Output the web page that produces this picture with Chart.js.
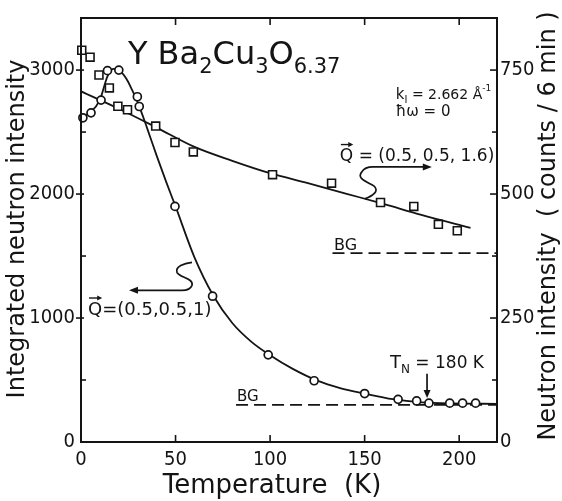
<!DOCTYPE html>
<html><head><meta charset="utf-8">
<script src="https://cdn.jsdelivr.net/npm/chart.js@4.4.1/dist/chart.umd.min.js"></script>
<style>html,body{margin:0;padding:0;background:#fff;overflow:hidden}canvas{display:block}</style>
</head><body>
<canvas id="c" width="562" height="501"></canvas>
<script>
// ---------------- data ----------------
const xTickValues = [0, 50, 100, 150, 200];
const leftTickValues = [0, 1000, 2000, 3000];
const leftMinorValues = [500, 1500, 2500];
const rightTickValues = [0, 250, 500, 750];
const rightMinorValues = [125, 375, 625];

// Q = (0.5, 0.5, 1): integrated intensity (left axis), open circles
const tempQ1 = [1, 5.3, 10.6, 14, 20, 29.8, 30.8, 49.7, 69.6, 99, 123.3, 150, 167.7, 177.5, 184, 195, 201.8, 208.7];
const intQ1  = [2615, 2655, 2758, 2995, 3000, 2785, 2706, 1900, 1176, 703, 494, 391, 344, 331, 313, 313, 313, 313];
// guide curve through Q1 data
const fitTempQ1 = [0, 5, 10, 14, 17, 20, 24, 27, 30, 35, 40, 45, 50, 60, 70, 80, 90, 100, 112, 125, 137, 150, 165, 180, 195, 220];
const fitIntQ1  = [2620, 2660, 2760, 2950, 3010, 3000, 2930, 2840, 2740, 2530, 2310, 2100, 1900, 1490, 1180, 960, 810, 700, 590, 495, 435, 390, 345, 320, 311, 308];

// Q = (0.5, 0.5, 1.6): counts / 6 min (right axis), open squares
const tempQ16 = [0.4, 4.8, 9.5, 15, 19.5, 24.6, 39.5, 49.7, 59.4, 101.3, 132.5, 158.4, 176, 189, 199];
const cntQ16  = [790, 776, 740, 714, 677, 670, 637, 604, 585, 539, 522, 483, 475, 439, 426];
const fitTempQ16 = [0, 20, 40, 60, 80, 100, 120, 140, 160, 180, 206];
const fitCntQ16  = [707, 672, 634, 595, 567, 542, 522, 501, 480, 458, 432];

// backgrounds
const bgTempQ1 = [82, 220];
const bgIntQ1  = [299, 299];
const bgTempQ16 = [133, 220];
const bgCntQ16  = [381, 381];

// ---------------- chart ----------------
const pts = (xs, ys) => xs.map((x, i) => ({x: x, y: ys[i]}));
const INK = '#141414';
const TXT = "'DejaVu Sans', 'Liberation Sans', sans-serif";
const TICKF = "'Liberation Sans Narrow', 'DejaVu Sans Condensed', 'Liberation Sans', sans-serif";

function richText(ctx, x, y, parts) {
  let cx = x;
  parts.forEach(([t, s, dy]) => {
    ctx.font = s + 'px ' + TXT;
    ctx.fillText(t, cx, y + (dy || 0));
    cx += ctx.measureText(t).width;
  });
  return cx;
}
function arrowHead(ctx, tx, ty, dx, dy, len, half) {
  const bx = tx - dx * len, by = ty - dy * len;
  ctx.beginPath();
  ctx.moveTo(tx, ty);
  ctx.lineTo(bx - dy * half, by + dx * half);
  ctx.lineTo(bx + dy * half, by - dx * half);
  ctx.closePath();
  ctx.fill();
}
function vecQ(ctx, x, y, size) {
  ctx.font = size + 'px ' + TXT;
  ctx.fillText('Q', x, y);
  const w = ctx.measureText('Q').width;
  const ay = y - size * 0.78 - 3;
  ctx.lineWidth = 1.4;
  ctx.beginPath(); ctx.moveTo(x + 1, ay); ctx.lineTo(x + w - 3, ay); ctx.stroke();
  arrowHead(ctx, x + w, ay, 1, 0, 5, 2.6);
  return x + w;
}

const deco = {
  id: 'deco',
  afterDraw(chart) {
    const {ctx, chartArea: a, scales} = chart;
    const X = v => scales.x.getPixelForValue(v);
    const Y = v => scales.y.getPixelForValue(v);
    const Y2 = v => scales.y2.getPixelForValue(v);
    ctx.save();
    ctx.strokeStyle = INK; ctx.fillStyle = INK;
    ctx.lineWidth = 2;
    ctx.strokeRect(a.left, a.top, a.right - a.left, a.bottom - a.top);
    const seg = (x1, y1, x2, y2) => { ctx.beginPath(); ctx.moveTo(x1, y1); ctx.lineTo(x2, y2); ctx.stroke(); };
    ctx.lineWidth = 1.6;
    xTickValues.forEach(v => { if (v === 0) return; const p = X(v); seg(p, a.bottom, p, a.bottom - 7); seg(p, a.top, p, a.top + 7); });
    leftTickValues.forEach(v => { if (v === 0) return; const p = Y(v); seg(a.left - 5, p, a.left + 3, p); });
    leftMinorValues.forEach(v => { const p = Y(v); seg(a.left, p, a.left + 5, p); });
    rightTickValues.forEach(v => { if (v === 0) return; const p = Y2(v); seg(a.right - 7, p, a.right, p); });
    rightMinorValues.forEach(v => { const p = Y2(v); seg(a.right - 5, p, a.right, p); });

    ctx.textBaseline = 'alphabetic'; ctx.textAlign = 'left';
    // compound title
    richText(ctx, X(24.8), Y(3047), [['Y ', 32], ['Ba', 32], ['2', 21, 9], ['Cu', 32], ['3', 21, 9], ['O', 32], ['6.37', 21, 9]]);
    // instrument settings
    richText(ctx, X(166.5), Y(2764), [['k', 15], ['I', 10, 4], [' = 2.662 \u00C5', 14], ['-1', 9, -8]]);
    richText(ctx, X(166.5), Y(2630), [['\u0127\u03C9 = 0', 15]]);

    // Q = (0.5,0.5,1.6) label and squiggle arrow to the right
    let qx = vecQ(ctx, X(136.9), Y(2268), 17);
    ctx.font = '17px ' + TXT; ctx.fillText(' = (0.5, 0.5, 1.6)', qx, Y(2268));
    {
      const ox = X(150.1), oy = Y(1961);
      ctx.lineWidth = 1.7;
      ctx.beginPath();
      ctx.moveTo(ox, oy);
      ctx.bezierCurveTo(ox + 8, oy - 3, ox + 15, oy - 8, ox + 9, oy - 13);
      ctx.bezierCurveTo(ox + 3, oy - 17, ox - 9, oy - 20, ox - 3, oy - 27);
      ctx.quadraticCurveTo(ox, oy - 32, ox + 8, oy - 32);
      ctx.lineTo(ox + 60, oy - 32);
      ctx.stroke();
      arrowHead(ctx, ox + 67, oy - 32, 1, 0, 9, 3.5);
    }

    // Q = (0.5,0.5,1) label and squiggle arrow to the left
    qx = vecQ(ctx, X(3.7), Y(1024), 18);
    ctx.font = '18px ' + TXT; ctx.fillText('=(0.5,0.5,1)', qx, Y(1024));
    {
      const ox = X(58.7), oy = Y(1449);
      ctx.lineWidth = 1.7;
      ctx.beginPath();
      ctx.moveTo(ox, oy);
      ctx.bezierCurveTo(ox - 8, oy + 1, ox - 17, oy + 4, ox - 15, oy + 10);
      ctx.bezierCurveTo(ox - 13, oy + 15, ox + 2, oy + 16, ox, oy + 23);
      ctx.quadraticCurveTo(ox - 2, oy + 28, ox - 10, oy + 28);
      ctx.lineTo(ox - 55, oy + 28);
      ctx.stroke();
      arrowHead(ctx, ox - 63, oy + 28, -1, 0, 9, 3.5);
    }

    // T_N label and arrow
    richText(ctx, X(163.4), Y(598), [['T', 18], ['N', 12, 5], [' = 180 K', 17]]);
    ctx.lineWidth = 1.7;
    seg(X(183), Y(551), X(183), Y(354) - 7);
    arrowHead(ctx, X(183), Y(354), 0, 1, 8, 3.5);

    // BG labels
    richText(ctx, X(133.8), Y(1551), [['BG', 16]]);
    richText(ctx, X(82.5), Y(331), [['BG', 15]]);

    // axis titles
    ctx.textAlign = 'center';
    ctx.font = '26px ' + TXT;
    ctx.fillText('Temperature  (K)', 272, 493);
    ctx.textBaseline = 'middle';
    ctx.save(); ctx.translate(18, 229); ctx.rotate(-Math.PI / 2);
    ctx.font = '24px ' + TXT; ctx.fillText('Integrated neutron intensity', 0, 0); ctx.restore();
    ctx.save(); ctx.translate(549, 226); ctx.rotate(-Math.PI / 2);
    ctx.font = '24px ' + TXT; ctx.fillText('Neutron intensity  ( counts / 6 min )', 0, 0); ctx.restore();
    ctx.restore();
  }
};

const plainTick = v => String(v);

new Chart(document.getElementById('c'), {
  type: 'line',
  data: {
    datasets: [
      {label: 'Q=(0.5,0.5,1)', data: pts(tempQ1, intQ1), yAxisID: 'y', showLine: false,
       pointStyle: 'circle', pointRadius: 4, pointBorderWidth: 1.7, pointBackgroundColor: '#fff', pointBorderColor: INK, clip: false, order: 0},
      {label: 'Q=(0.5,0.5,1.6)', data: pts(tempQ16, cntQ16), yAxisID: 'y2', showLine: false,
       pointStyle: 'rect', pointRadius: 5.6, pointBorderWidth: 1.6, pointBackgroundColor: '#fff', pointBorderColor: INK, clip: false, order: 1},
      {label: 'fit 1', data: pts(fitTempQ1, fitIntQ1), yAxisID: 'y', borderColor: INK, borderWidth: 1.8,
       pointRadius: 0, cubicInterpolationMode: 'monotone', fill: false, order: 3},
      {label: 'fit 1.6', data: pts(fitTempQ16, fitCntQ16), yAxisID: 'y2', borderColor: INK, borderWidth: 1.8,
       pointRadius: 0, cubicInterpolationMode: 'monotone', fill: false, order: 3},
      {label: 'BG 1', data: pts(bgTempQ1, bgIntQ1), yAxisID: 'y', borderColor: INK, borderWidth: 1.8,
       borderDash: [12, 6], pointRadius: 0, fill: false, order: 4},
      {label: 'BG 1.6', data: pts(bgTempQ16, bgCntQ16), yAxisID: 'y2', borderColor: INK, borderWidth: 1.8,
       borderDash: [12, 6], pointRadius: 0, fill: false, order: 4}
    ]
  },
  options: {
    responsive: false, animation: false, devicePixelRatio: 1,
    layout: {padding: {top: 7, left: 0, right: 0, bottom: 0}},
    plugins: {legend: {display: false}, tooltip: {enabled: false}},
    scales: {
      x: {type: 'linear', min: 0, max: 220,
          afterBuildTicks: s => { s.ticks = xTickValues.map(v => ({value: v})); },
          afterFit: s => { s.height = 59; },
          grid: {display: false, drawTicks: false}, border: {display: false},
          ticks: {color: INK, font: {family: TICKF, size: 20}, padding: 6, maxRotation: 0, callback: plainTick}},
      y: {type: 'linear', position: 'left', min: 0, max: 3420,
          afterBuildTicks: s => { s.ticks = leftTickValues.map(v => ({value: v})); },
          afterFit: s => { s.width = 81; },
          grid: {display: false, drawTicks: false}, border: {display: false},
          ticks: {color: INK, font: {family: TICKF, size: 20}, padding: 6, callback: plainTick}},
      y2: {type: 'linear', position: 'right', min: 0, max: 855,
          afterBuildTicks: s => { s.ticks = rightTickValues.map(v => ({value: v})); },
          afterFit: s => { s.width = 65; },
          grid: {display: false, drawTicks: false}, border: {display: false},
          ticks: {color: INK, font: {family: TICKF, size: 20}, padding: 3, callback: plainTick}}
    }
  },
  plugins: [deco]
});
</script>
</body></html>
